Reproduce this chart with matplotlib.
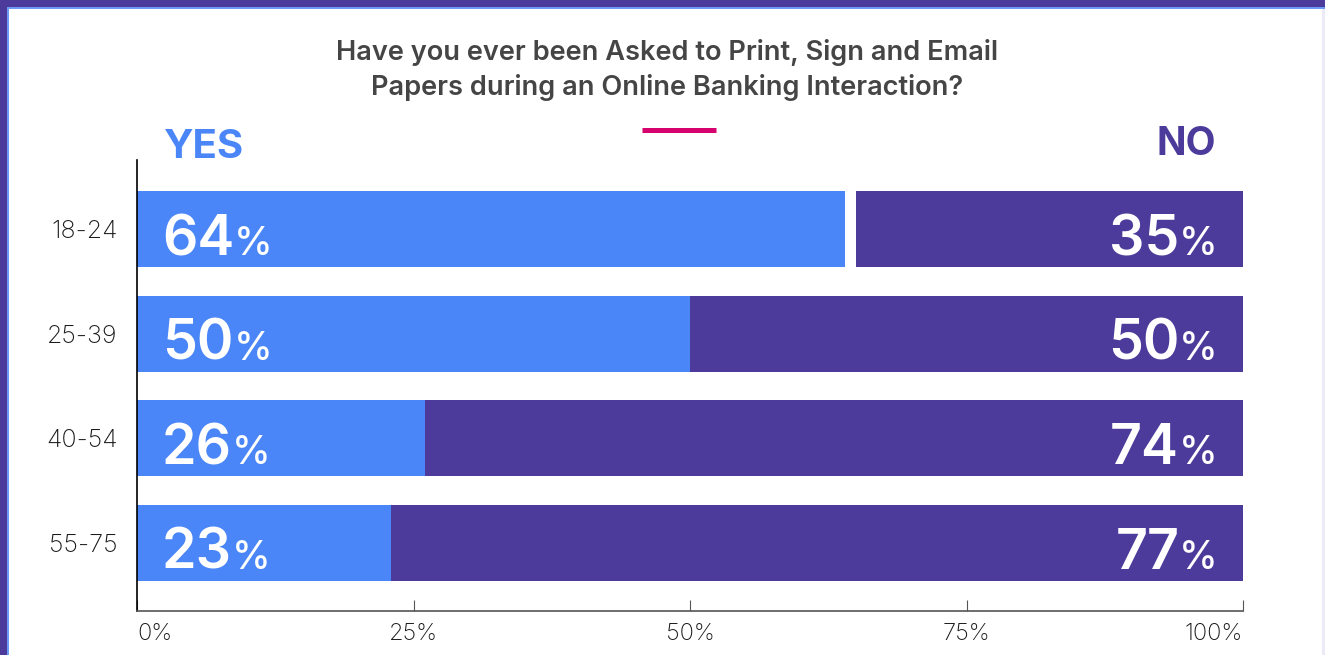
import matplotlib
matplotlib.use("Agg")
import matplotlib.pyplot as plt
from matplotlib.patches import Rectangle
from matplotlib.lines import Line2D

# survey answers per age group (percent)
age_groups = ["18-24", "25-39", "40-54", "55-75"]
yes_pct = [64, 50, 26, 23]
no_pct = [35, 50, 74, 77]
x_ticks = [0, 25, 50, 75, 100]
x_tick_labels = ["0%", "25%", "50%", "75%", "100%"]

title = "Have you ever been Asked to Print, Sign and Email\nPapers during an Online Banking Interaction?"

BLUE = "#4a86f8"
PURPLE = "#4c3b9b"
PINK = "#d6036f"

plt.rcParams["font.family"] = ["Inter", "DejaVu Sans"]

W, H = 1325, 655
fig = plt.figure(figsize=(W / 100, H / 100), dpi=100)
fig.patch.set_facecolor("white")

ax = fig.add_axes([137 / W, 1 - 611 / H, 1106 / W, 451 / H])

y = list(range(len(age_groups)))
ax.barh(y, yes_pct, height=0.725, color=BLUE)
# the "no" share is anchored on the right edge
ax.barh(y, no_pct, left=[100 - v for v in no_pct], height=0.725, color=PURPLE)

ax.set_xlim(0, 100)
ax.set_ylim(len(age_groups) - 0.35, -0.66)

ax.set_yticks(y)
ax.set_yticklabels(age_groups, fontsize=18, color="#1a1a1a", fontweight="light")
ax.tick_params(axis="y", length=0, pad=14)

ax.set_xticks(x_ticks)
ax.set_xticklabels(x_tick_labels, fontsize=17, color="#1a1a1a", fontweight="light")
ax.tick_params(axis="x", direction="in", length=8, color="#555555", pad=9)
xl = ax.get_xticklabels()
xl[0].set_ha("left")
xl[-1].set_ha("right")

for s in ["top", "right"]:
    ax.spines[s].set_visible(False)
ax.spines["left"].set_color("black")
ax.spines["left"].set_linewidth(1.2)
ax.spines["bottom"].set_color("#555555")
ax.spines["bottom"].set_linewidth(1.2)

num_kw = dict(fontsize=40, fontweight="semibold", color="white", va="baseline")
pct_kw = dict(fontsize=28, fontweight="medium", color="white", va="baseline")
base = -26

for i in y:
    # left side: yes value
    t = ax.annotate(str(yes_pct[i]), xy=(0, i), xycoords="data",
                    xytext=(25, base), textcoords="offset pixels", ha="left", **num_kw)
    ax.annotate("%", xy=(1, i), xycoords=(t, "data"),
                xytext=(0, base), textcoords="offset pixels", ha="left", **pct_kw)
    # right side: no value
    p = ax.annotate("%", xy=(100, i), xycoords="data",
                    xytext=(-25, base), textcoords="offset pixels", ha="right", **pct_kw)
    ax.annotate(str(no_pct[i]), xy=(0, i), xycoords=(p, "data"),
                xytext=(0, base), textcoords="offset pixels", ha="right", **num_kw)

ax.annotate("YES", xy=(0, 1), xycoords="axes fraction", xytext=(27, 2),
            textcoords="offset pixels", ha="left", va="baseline",
            fontsize=29, fontweight="bold", color=BLUE)
ax.annotate("NO", xy=(1, 1), xycoords="axes fraction", xytext=(-27, 5),
            textcoords="offset pixels", ha="right", va="baseline",
            fontsize=28, fontweight="bold", color=PURPLE)

fig.text(667 / W, 1 - 70 / H, title, ha="center", va="center", fontsize=19.6,
         fontweight="semibold", color="#454545", linespacing=1.42)

# pink accent under the title
fig.add_artist(Line2D([642 / W, 716 / W], [1 - 129.5 / H] * 2, color=PINK,
                      lw=3.6, solid_capstyle="butt", transform=fig.transFigure))

# page frame
frame = [
    ((0, 1 - 7 / H), 1, 7 / H, PURPLE),
    ((0, 0), 7 / W, 1, PURPLE),
    ((7 / W, 1 - 9 / H), 1 - 7 / W, 2 / H, "#6b9af7"),
    ((7 / W, 0), 2 / W, 1 - 7 / H, "#6b9af7"),
    ((1 - 3 / W, 0), 3 / W, 1 - 9 / H, "#eceaf6"),
]
for xy, w, h, c in frame:
    fig.add_artist(Rectangle(xy, w, h, transform=fig.transFigure, color=c, lw=0))

fig.savefig("out.png", dpi=100)
